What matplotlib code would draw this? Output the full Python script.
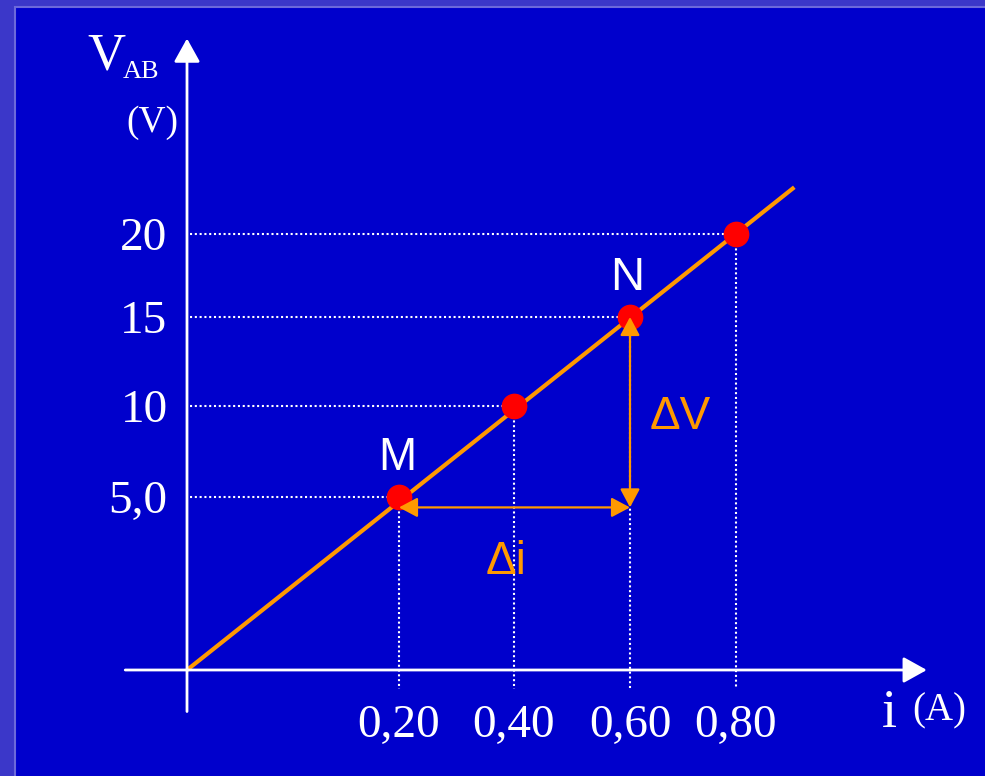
import numpy as np
import matplotlib
matplotlib.use('Agg')
import matplotlib.pyplot as plt
from matplotlib.patches import Rectangle
from matplotlib.transforms import offset_copy

# measured points of the characteristic V_AB = f(i)
i_pts = [0.20, 0.40, 0.60, 0.80]
v_pts = [5.0, 10.0, 15.0, 20.0]
x_labels = ['0,20', '0,40', '0,60', '0,80']
y_labels = ['5,0', '10', '15', '20']

# drawn straight line through the origin
line_i = [0.0, 0.91]
line_v = [0.0, 22.75]

BG = '#0000CC'
ORANGE = '#FF9900'
SERIF = 'Liberation Serif'
SANS = 'Liberation Sans'

plt.rcParams['font.family'] = SERIF

# the original sketch is not to scale: graduations are unevenly spaced,
# so use a piecewise scale anchored on the graduations (figure pixels)
x_anchor = [-1.0, 0.0, 0.2, 0.4, 0.6, 0.8, 2.0]
x_pixel = [187 - 1065, 187, 399, 514, 630, 736, 736 + 1.2 * 530]
y_anchor = [-20.0, 0.0, 5.0, 10.0, 15.0, 20.0, 60.0]
y_pixel = [106 - 20 * 34.6, 106, 279, 370, 459, 542, 542 + 40 * 17]


def fwd_x(x):
    return np.interp(x, x_anchor, x_pixel)


def inv_x(p):
    return np.interp(p, x_pixel, x_anchor)


def fwd_y(y):
    return np.interp(y, y_anchor, y_pixel)


def inv_y(p):
    return np.interp(p, y_pixel, y_anchor)


W, H = 985, 776
fig = plt.figure(figsize=(W / 100, H / 100), dpi=100, facecolor='#3B37C9')
fig.add_artist(Rectangle((15 / W, -0.05), 1.0, (H - 7) / H + 0.05,
                         transform=fig.transFigure, facecolor=BG,
                         edgecolor='#6C69DB', lw=1.5, zorder=-1))

ax = fig.add_axes([0, 0, 1, 1])
ax.patch.set_visible(False)
ax.set_xscale('function', functions=(fwd_x, inv_x))
ax.set_yscale('function', functions=(fwd_y, inv_y))
ax.set_xlim(inv_x(0), inv_x(W))
ax.set_ylim(inv_y(0), inv_y(H))

for s in ax.spines.values():
    s.set_visible(False)
ax.spines['bottom'].set_position(('data', 0))
ax.spines['left'].set_position(('data', 0))

ax.set_xticks(i_pts, labels=x_labels)
ax.set_yticks(v_pts, labels=y_labels)
ax.tick_params(axis='x', length=0, colors='white', labelsize=34, pad=25)
ax.tick_params(axis='y', length=0, colors='white', labelsize=34, pad=14)

# axes with arrow heads
axis_style = dict(arrowstyle='-|>,head_length=0.72,head_width=0.4',
                  mutation_scale=20, color='white', lw=2,
                  shrinkA=0, shrinkB=0)
ax.annotate('', xy=(1.16, 0), xytext=(-0.058, 0), arrowprops=axis_style)
ax.annotate('', xy=(0, 31.5), xytext=(0, -1.2), arrowprops=axis_style)

# dotted guides
dots = dict(color='white', lw=1.5, linestyle=(0, (1, 1.3)), zorder=1)
for i, v in zip(i_pts, v_pts):
    ax.plot([0.003, i], [v, v], **dots)
    ax.plot([i, i], [v, -0.55], **dots)

ax.plot(line_i, line_v, color=ORANGE, lw=3, zorder=2, solid_capstyle='butt')
ax.plot(i_pts, v_pts, 'o', color='#FF0000', ms=17.5, zorder=3)

# delta arrows between M and N
low = offset_copy(ax.transData, fig=fig, y=-7.5, units='points')
delta_style = dict(arrowstyle='<|-|>,head_length=0.75,head_width=0.4',
                   mutation_scale=15, color=ORANGE, lw=1.6,
                   shrinkA=0, shrinkB=0)
ax.annotate('', xy=(i_pts[2], v_pts[0]), xycoords=low,
            xytext=(i_pts[0], v_pts[0]), textcoords=low,
            arrowprops=delta_style, zorder=4)
ax.annotate('', xy=(i_pts[2], v_pts[2]), xycoords='data',
            xytext=(i_pts[2], v_pts[0]), textcoords=low,
            arrowprops=delta_style, zorder=4)

ax.annotate('M', xy=(i_pts[0], v_pts[0]), xytext=(-1.5, 28),
            textcoords='offset points', ha='center', va='center',
            color='white', fontsize=33, family=SANS)
ax.annotate('N', xy=(i_pts[2], v_pts[2]), xytext=(-2, 28),
            textcoords='offset points', ha='center', va='center',
            color='white', fontsize=34, family=SANS)
ax.annotate('ΔV', xy=(i_pts[2], v_pts[1]), xytext=(36, -8),
            textcoords='offset points', ha='center', va='center',
            color=ORANGE, fontsize=33, family=SANS)
ax.annotate('Δi', xy=(i_pts[1], v_pts[0]), xytext=(-6, -47),
            textcoords='offset points', ha='center', va='center',
            color=ORANGE, fontsize=33, family=SANS)

# axis titles
fig.text(87 / W, 1 - 70 / H, 'V', color='white', fontsize=38,
         ha='left', va='baseline')
fig.text(123 / W, 1 - 78 / H, 'AB', color='white', fontsize=19,
         ha='left', va='baseline')
fig.text(126 / W, 1 - 132 / H, '(V)', color='white', fontsize=27,
         ha='left', va='baseline')
fig.text(882 / W, 1 - 727 / H, 'i', color='white', fontsize=39,
         ha='left', va='baseline')
fig.text(912 / W, 1 - 720 / H, '(A)', color='white', fontsize=28,
         ha='left', va='baseline')

fig.savefig('out.png', dpi=100, facecolor=fig.get_facecolor())
